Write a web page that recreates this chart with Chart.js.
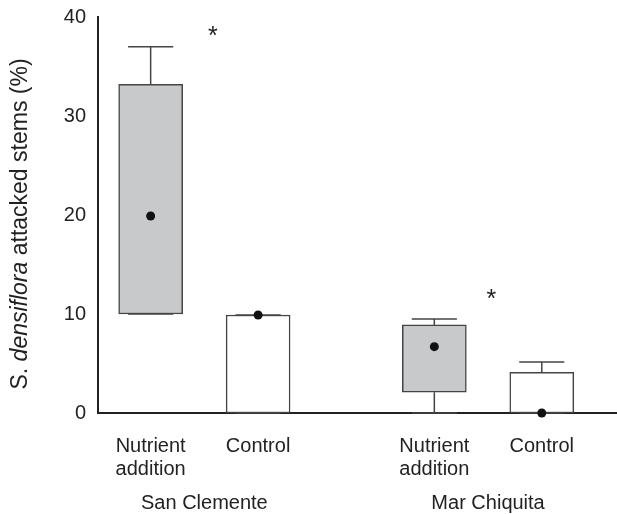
<!DOCTYPE html>
<html>
<head>
<meta charset="utf-8">
<script src="https://cdn.jsdelivr.net/npm/chart.js@4/dist/chart.umd.min.js"></script>
<style>
  body { margin: 0; background: #fff; }
  canvas { display: block; }
</style>
</head>
<body>
<canvas id="boxChart" width="617" height="514"></canvas>
<script>
// groups along the x axis (linear positions, gap between sites)
const positions = [0.49, 1.49, 3.13, 4.13];
const treatments = [["Nutrient", "addition"], ["Control"], ["Nutrient", "addition"], ["Control"]];
const sites = ["San Clemente", "Mar Chiquita"];
const siteOf = [0, 0, 1, 1];

// box plot values (% attacked stems)
const q1 = [10, 0, 2.1, 0];
const q3 = [33.2, 9.9, 8.9, 4.1];
const whiskerLow = [10, 0, 0, 0];
const whiskerHigh = [37.0, 9.9, 9.5, 5.15];
const means = [19.9, 9.9, 6.7, 0];
const shaded = [true, false, true, false];

// significance marks
const starX = [1.07, 3.66];
const starY = [38.3, 11.7];

const yTicks = [0, 10, 20, 30, 40];

const FONT = '"Liberation Sans", Arial, sans-serif';
const INK = "#222";
const EDGE = "#444";
const CAP = 0.21;

function whiskerPoints() {
  const pts = [];
  positions.forEach((p, i) => {
    if (whiskerHigh[i] > q3[i]) {
      pts.push({ x: p, y: q3[i] }, { x: p, y: whiskerHigh[i] }, { x: p, y: null });
    }
    pts.push({ x: p - CAP, y: whiskerHigh[i] }, { x: p + CAP, y: whiskerHigh[i] }, { x: p, y: null });
    if (whiskerLow[i] < q1[i]) {
      pts.push({ x: p, y: q1[i] }, { x: p, y: whiskerLow[i] }, { x: p, y: null });
    }
    pts.push({ x: p - CAP, y: whiskerLow[i] }, { x: p + CAP, y: whiskerLow[i] }, { x: p, y: null });
  });
  return pts;
}

const textPlugin = {
  id: "textPlugin",
  afterDraw(chart) {
    const { ctx, scales } = chart;
    const x = scales.x;
    const y = scales.y;
    ctx.save();
    ctx.fillStyle = INK;

    // treatment labels
    ctx.font = `20px ${FONT}`;
    ctx.textAlign = "center";
    ctx.textBaseline = "middle";
    treatments.forEach((lines, i) => {
      lines.forEach((line, j) => {
        ctx.fillText(line, x.getPixelForValue(positions[i]), 446 + j * 23);
      });
    });

    // site labels
    sites.forEach((site, s) => {
      const idx = positions.filter((_, i) => siteOf[i] === s);
      const mid = idx.reduce((a, b) => a + b, 0) / idx.length;
      ctx.fillText(site, x.getPixelForValue(mid), 503);
    });

    // asterisks
    ctx.font = `25px ${FONT}`;
    starX.forEach((sx, i) => {
      ctx.fillText("*", x.getPixelForValue(sx), y.getPixelForValue(starY[i]) + 3);
    });

    // y title with italic species name
    const parts = [
      { t: "S. ", f: `23px ${FONT}` },
      { t: "densiflora", f: `italic 23px ${FONT}` },
      { t: " attacked stems (%)", f: `23px ${FONT}` },
    ];
    let total = 0;
    parts.forEach((p) => {
      ctx.font = p.f;
      p.w = ctx.measureText(p.t).width;
      total += p.w;
    });
    ctx.translate(27, 224);
    ctx.rotate(-Math.PI / 2);
    ctx.textAlign = "left";
    ctx.textBaseline = "alphabetic";
    let cx = -total / 2;
    parts.forEach((p) => {
      ctx.font = p.f;
      ctx.fillText(p.t, cx, 0);
      cx += p.w;
    });
    ctx.restore();
  },
};

new Chart(document.getElementById("boxChart"), {
  type: "bar",
  data: {
    datasets: [
      {
        type: "scatter",
        data: positions.map((p, i) => ({ x: p, y: means[i] })),
        pointRadius: 4.5,
        pointBackgroundColor: "#111",
        pointBorderWidth: 0,
        clip: false,
        order: 1,
      },
      {
        type: "line",
        data: whiskerPoints(),
        borderColor: EDGE,
        borderWidth: 1.5,
        pointRadius: 0,
        spanGaps: false,
        clip: false,
        order: 2,
      },
      {
        type: "bar",
        data: positions.map((p, i) => ({ x: p, y: [q1[i], q3[i]] })),
        backgroundColor: shaded.map((s) => (s ? "#c8c9cb" : "#ffffff")),
        borderColor: EDGE,
        borderWidth: 1.5,
        borderSkipped: false,
        barThickness: 64,
        order: 3,
      },
    ],
  },
  options: {
    responsive: false,
    animation: false,
    layout: { autoPadding: false, padding: { top: 17, right: 0, left: 0, bottom: 0 } },
    plugins: { legend: { display: false }, tooltip: { enabled: false } },
    scales: {
      x: {
        type: "linear",
        min: 0,
        max: 4.83,
        offset: false,
        grid: { display: false, drawTicks: false },
        border: { color: INK, width: 2 },
        ticks: { display: false },
        afterFit: (scale) => {
          scale.height = 101;
          scale.paddingLeft = 0;
          scale.paddingRight = 0;
        },
      },
      y: {
        min: 0,
        max: 40,
        grid: { display: false, drawTicks: false },
        border: { color: INK, width: 2 },
        afterBuildTicks: (scale) => { scale.ticks = yTicks.map((v) => ({ value: v })); },
        ticks: { color: INK, font: { size: 20, family: FONT }, padding: 12 },
        afterFit: (scale) => {
          scale.width = 98;
          scale.paddingTop = 0;
          scale.paddingBottom = 0;
        },
      },
    },
  },
  plugins: [textPlugin],
});
</script>
</body>
</html>
